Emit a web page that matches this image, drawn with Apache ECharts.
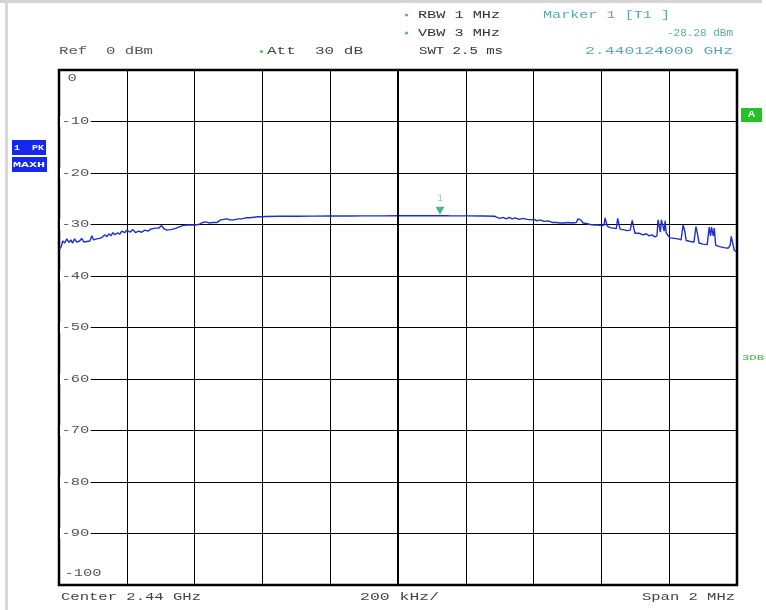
<!DOCTYPE html>
<html>
<head>
<meta charset="utf-8">
<script src="https://cdn.jsdelivr.net/npm/echarts@6/dist/echarts.min.js"></script>
<style>
html,body{margin:0;padding:0;background:#fff;}
#c{width:766px;height:610px;}
</style>
</head>
<body>
<div id="c"></div>
<script>
// Frequency offset from center (kHz), center 2.44 GHz, span 2 MHz
const freqKHz = [
 -998,-993,-989,-983,-977,-971,-965,-960,-954,-948,-939,-933,-927,-918,-909,-903,-898,-889,-880,-871,
 -865,-859,-853,-847,-841,-835,-827,-821,-815,-806,-800,-791,-782,-774,-765,-756,-747,-738,-729,-723,
 -715,-706,-697,-691,-682,-670,-658,-647,-635,-623,-611,-599,-588,-576,-567,-558,-546,-534,-523,-514,
 -505,-496,-484,-472,-461,-449,-437,-425,-413,-401,
 -390,-350,-300,-250,-200,-150,-100,-50,0,50,100,124,150,200,250,285,
 292,301,310,319,328,337,346,357,369,381,393,402,410,419,431,443,455,467,478,490,
 502,514,526,531,534,539,546,555,567,579,590,602,608,611,614,617,626,635,644,648,
 652,655,664,676,685,691,695,699,711,723,732,741,749,758,764,767,771,774,777,782,
 785,788,791,797,803,815,826,835,841,846,850,862,873,879,884,888,900,912,918,922,
 925,930,933,937,948,962,974,980,983,988,992,998
];
const levelDb = [
 -34.8,-34.2,-33.2,-33.6,-32.8,-33.5,-33.0,-33.6,-32.8,-33.4,-33.2,-32.7,-33.4,-33.3,-33.2,-32.2,-33.0,-32.8,-32.7,-32.4,
 -32.0,-32.4,-31.8,-32.2,-31.6,-32.0,-31.6,-31.9,-31.3,-31.6,-31.1,-31.5,-31.0,-31.6,-31.3,-31.5,-31.1,-31.3,-30.9,-30.8,
 -30.7,-30.7,-30.2,-30.8,-31.1,-31.0,-30.8,-30.5,-30.2,-30.1,-30.1,-30.1,-30.0,-29.6,-29.5,-29.7,-29.6,-29.6,-29.1,-29.0,
 -28.9,-29.1,-29.1,-28.9,-28.9,-28.7,-28.7,-28.6,-28.5,-28.5,
 -28.45,-28.4,-28.4,-28.38,-28.35,-28.35,-28.33,-28.32,-28.3,-28.3,-28.29,-28.28,-28.3,-28.32,-28.35,-28.4,
 -28.6,-28.8,-28.6,-28.9,-28.6,-28.9,-28.7,-29.0,-28.8,-29.0,-29.1,-29.0,-29.3,-29.1,-29.4,-29.3,-29.6,-29.6,-29.7,-29.7,
 -29.6,-29.7,-29.6,-28.9,-28.6,-29.1,-29.7,-29.8,-30.0,-30.1,-30.1,-30.2,-30.1,-28.7,-28.8,-30.3,-30.6,-30.7,-30.8,-28.8,
 -28.9,-30.9,-31.0,-31.2,-31.1,-29.2,-30.5,-31.7,-31.7,-32.0,-31.8,-32.2,-32.0,-32.4,-32.2,-29.1,-29.3,-31.5,-29.1,-29.2,
 -31.3,-29.3,-31.6,-32.2,-32.6,-32.7,-32.8,-33.0,-30.1,-31.3,-33.1,-33.3,-33.4,-30.4,-32.0,-33.6,-33.8,-33.9,-30.5,-32.2,
 -30.5,-32.2,-30.7,-34.0,-34.3,-34.5,-34.6,-34.0,-32.3,-33.8,-35.0,-35.3
];
const markerFreq = 124;      // 2.440124000 GHz
const markerLevel = -28.28;  // dBm
const yTicks = [0,-10,-20,-30,-40,-50,-60,-70,-80,-90,-100];
const headerTexts = {
  ref: 'Ref  0 dBm', att: 'Att  30 dB', rbw: 'RBW 1 MHz', vbw: 'VBW 3 MHz', swt: 'SWT 2.5 ms',
  marker: 'Marker 1 [T1 ]', mlevel: '-28.28 dBm', mfreq: '2.440124000 GHz'
};
const footerTexts = { center: 'Center 2.44 GHz', div: '200 kHz/', span: 'Span 2 MHz' };

const trace = freqKHz.map((f, i) => [f, levelDb[i]]);

const chart = echarts.init(document.getElementById('c'), null, {renderer: 'canvas'});
chart.setOption({
  animation: false,
  backgroundColor: '#fff',
  grid: { left: 59, top: 70, width: 678, height: 515, show: true, borderColor: '#000', borderWidth: 2.5, backgroundColor: 'transparent' },
  xAxis: {
    type: 'value', min: -1000, max: 1000, interval: 200,
    axisLine: { show: false }, axisTick: { show: false }, axisLabel: { show: false },
    splitLine: { show: true, lineStyle: { color: '#000', width: 1 } }
  },
  yAxis: {
    type: 'value', min: -100, max: 0, interval: 10,
    axisLine: { show: false }, axisTick: { show: false }, axisLabel: { show: false },
    splitLine: { show: true, lineStyle: { color: '#000', width: 1 } }
  },
  series: [
    {
      type: 'line', data: trace, showSymbol: false, silent: true,
      lineStyle: { color: '#1f30c8', width: 1.4 },
      markLine: {
        silent: true, symbol: 'none', label: { show: false },
        lineStyle: { color: '#000', width: 2, type: 'solid' },
        data: [{ xAxis: 0 }]
      },
      z: 3
    },
    {
      type: 'scatter', data: [[markerFreq, markerLevel]], silent: true,
      symbol: 'triangle', symbolRotate: 180, symbolSize: [9, 8], symbolOffset: [0, -5],
      itemStyle: { color: '#1f9c82' },
      label: { show: true, position: 'top', distance: 3, formatter: '1', color: '#7fb8b8', fontSize: 10, fontFamily: 'Liberation Mono' },
      z: 4
    }
  ]
});

const FONT = '"Liberation Mono", "DejaVu Sans Mono", monospace';
function txt(x, y, s, w, color, align, size, extra, weight) {
  const fs = size || 11;
  const sx = w / (s.length * fs * 0.6);
  const style = Object.assign({
    text: s, x: 0, y: 0, font: (weight ? weight + ' ' : '') + fs + 'px ' + FONT, fill: color,
    align: align || 'left', textAlign: align || 'left',
    verticalAlign: 'middle', textVerticalAlign: 'middle'
  }, extra || {});
  return { type: 'text', x: x, y: y, scaleX: sx, silent: true, z: 10, style: style };
}

const g = [];
// window frame bits
g.push({ type: 'rect', shape: { x: 0, y: 0, width: 762, height: 3 }, style: { fill: '#d4d4d4' }, silent: true });
g.push({ type: 'rect', shape: { x: 5, y: 3, width: 3, height: 607 }, style: { fill: '#d8d8d8' }, silent: true });

// header
g.push(txt(59, 51.5, headerTexts.ref, 94, '#555'));
g.push({ type: 'circle', shape: { cx: 261.5, cy: 51.5, r: 1.6 }, style: { fill: '#55c055' }, silent: true });
g.push(txt(267, 51.5, headerTexts.att, 96, '#444'));
g.push({ type: 'circle', shape: { cx: 406.5, cy: 15, r: 1.6 }, style: { fill: '#55c055' }, silent: true });
g.push(txt(418, 15, headerTexts.rbw, 82, '#333'));
g.push({ type: 'circle', shape: { cx: 406.5, cy: 33, r: 1.6 }, style: { fill: '#55c055' }, silent: true });
g.push(txt(418, 33, headerTexts.vbw, 82, '#333'));
g.push(txt(419, 51.5, headerTexts.swt, 84, '#333'));
g.push(txt(543, 15, headerTexts.marker, 127, '#5aaaaa'));
g.push(txt(733, 33, headerTexts.mlevel, 66, '#5aaaaa', 'right'));
g.push(txt(733, 51.5, headerTexts.mfreq, 148, '#5aaaaa', 'right'));

// footer
g.push(txt(61, 597, footerTexts.center, 140, '#444'));
g.push(txt(360, 597, footerTexts.div, 79, '#444'));
g.push(txt(735, 597, footerTexts.span, 93, '#444', 'right'));

// y labels inside the plot
yTicks.forEach(function (v) {
  const p = chart.convertToPixel({ gridIndex: 0 }, [-1000, v]);
  let x = 60, y = p[1];
  const s = String(v);
  if (v === 0) { x = 66; y = p[1] + 8; }
  if (v === -100) { x = 63; y = p[1] - 12; }
  g.push(txt(x, y, s, s.length * 9.3, '#555', 'left', 11, { backgroundColor: (v === 0 || v === -100) ? null : '#fff', padding: [0, 1] }));
});

// trace info boxes
g.push({ type: 'rect', shape: { x: 12, y: 140, width: 34, height: 15 }, style: { fill: '#1428f0' }, silent: true });
g.push(txt(14, 147.5, '1  PK', 30, '#fff', 'left', 8, null, 'bold'));
g.push({ type: 'rect', shape: { x: 12, y: 157, width: 35, height: 15 }, style: { fill: '#1428f0' }, silent: true });
g.push(txt(13, 164.5, 'MAXH', 32, '#fff', 'left', 8, null, 'bold'));
g.push({ type: 'rect', shape: { x: 741, y: 108, width: 21, height: 14 }, style: { fill: '#22c322' }, silent: true });
g.push(txt(748, 115, 'A', 7, '#fff', 'left', 9, null, 'bold'));
g.push(txt(742, 358, '3DB', 22, '#3fb03f', 'left', 8));

chart.setOption({ graphic: g });
</script>
</body>
</html>
